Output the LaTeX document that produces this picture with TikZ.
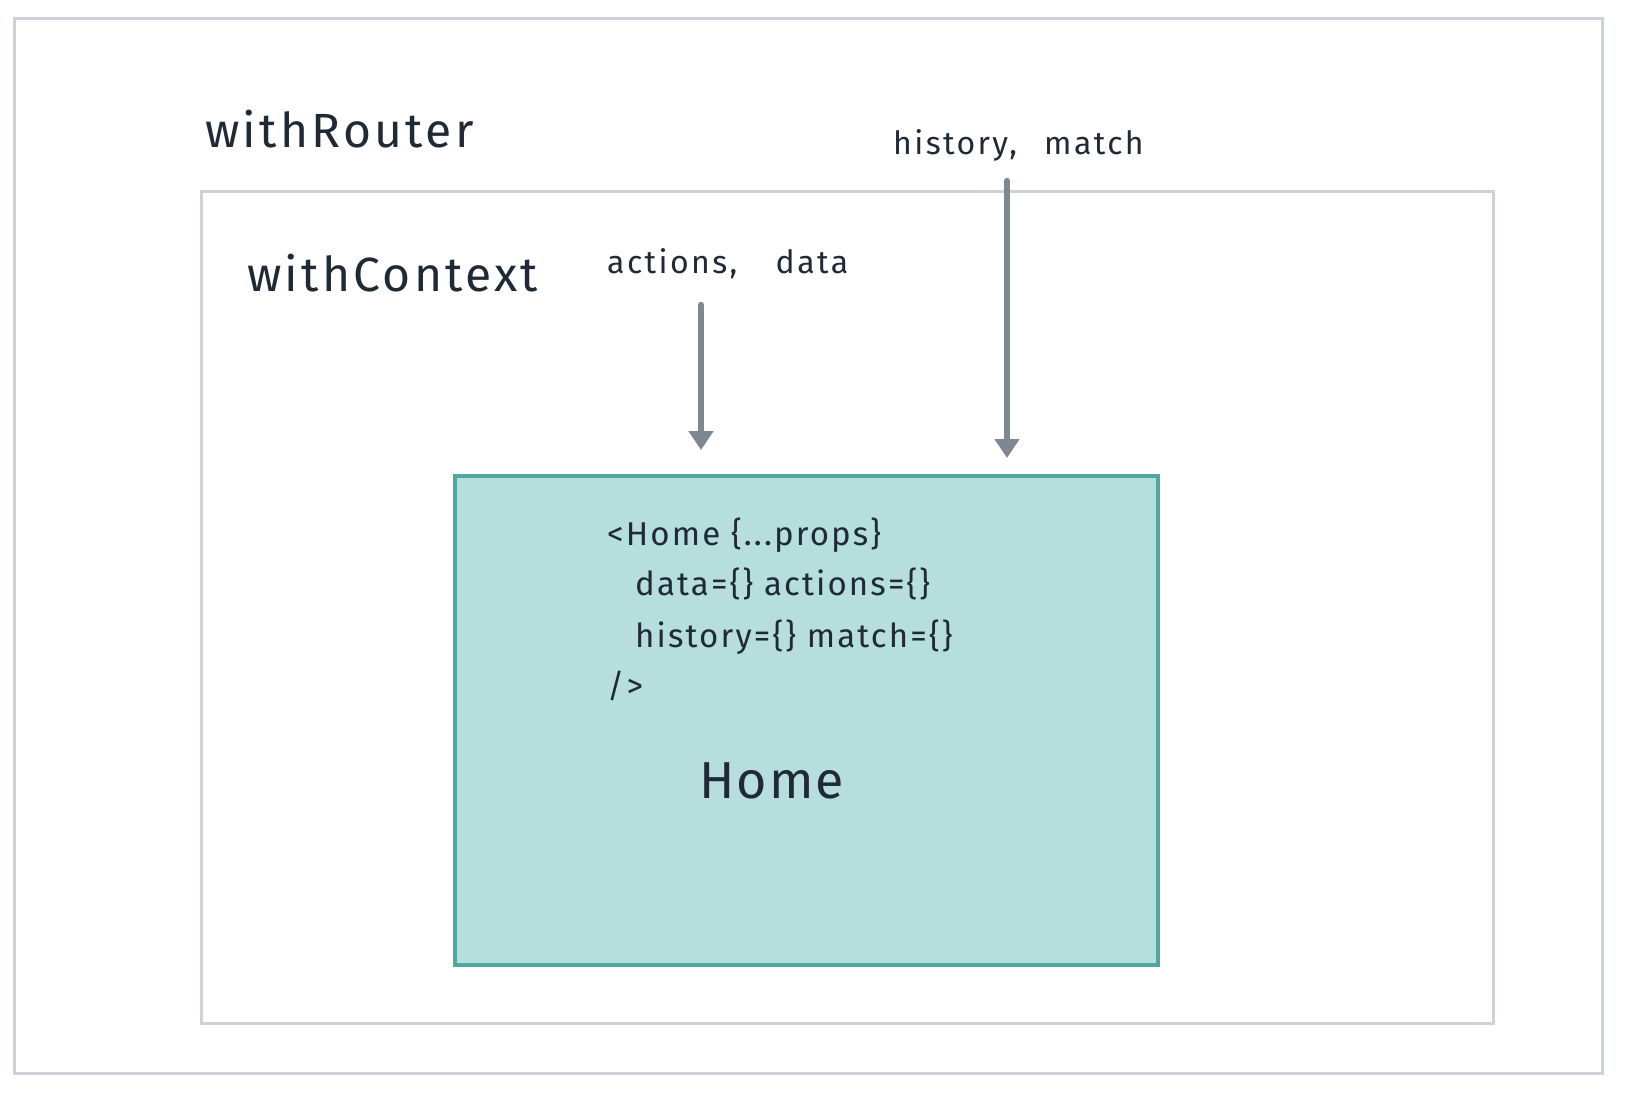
\documentclass[tikz,border=0pt]{standalone}
\usepackage{fontspec}
\setmainfont{Fira Sans}
\newfontfamily\titlefont[LetterSpace=6.8]{Fira Sans}
\newfontfamily\labelfont[LetterSpace=7.5]{Fira Sans}
\newfontfamily\codefont[LetterSpace=6.5]{Fira Sans}
\newfontfamily\homefont[LetterSpace=4]{Fira Sans}
\usetikzlibrary{arrows.meta}
\definecolor{frame}{HTML}{CDD2DA}
\definecolor{arrowgray}{HTML}{7F8793}
\definecolor{tealfill}{HTML}{B5DEDC}
\definecolor{tealline}{HTML}{4FA89F}
\definecolor{ink}{HTML}{1F2A36}
\begin{document}
\begin{tikzpicture}[x=1pt,y=-1pt,
  framebox/.style={draw=frame,line width=3pt},
  title/.style={anchor=base west,inner sep=0pt,text=ink,font=\titlefont\fontsize{48}{54}\selectfont},
  label/.style={anchor=base west,inner sep=0pt,text=ink,font=\labelfont\fontsize{32}{38}\selectfont},
  code/.style={anchor=base west,inner sep=0pt,text=ink,font=\codefont\fontsize{33}{40}\selectfont},
  flow/.style={draw=arrowgray,line width=6.5pt,-{Triangle[width=24pt,length=19pt]}}]
\useasboundingbox (0,0) rectangle (1628,1094);
\fill[white] (0,0) rectangle (1628,1094);
\draw[framebox] (14,19) rectangle (1602,1073);
\draw[framebox] (201,192) rectangle (1493,1023);
\node[draw=tealline,fill=tealfill,line width=3.5pt,minimum width=703pt,minimum height=489pt,anchor=north west,inner sep=0pt] (home) at (453,474) {};
\node[title] (wr) at (205,148) {withRouter};
\node[title] (wc) at (247,291) {withContext};
\node[label] (hm) at (893,155) {history,\hspace{0.85em}match};
\node[label] (ad) at (607,273) {actions,\hspace{1.2em}data};
\node[code] (l1) at (607,545) {<Home \{...props\}};
\node[code] (l2) at (635,595) {data=\{\} actions=\{\}};
\node[code] (l3) at (635,647) {history=\{\} match=\{\}};
\node[code] (l4) at (607,697) {/>};
\node[anchor=base west,inner sep=0pt,text=ink,font=\homefont\fontsize{52}{60}\selectfont] (hl) at (699,798) {Home};
\coordinate (a1s) at (701,305);
\coordinate (a1e) at (701,450);
\coordinate (a2s) at (1007,181);
\coordinate (a2e) at (1007,458);
\draw[flow,line cap=round] (a1s) -- (a1e);
\draw[flow,line cap=round] (a2s) -- (a2e);
\end{tikzpicture}
\end{document}
